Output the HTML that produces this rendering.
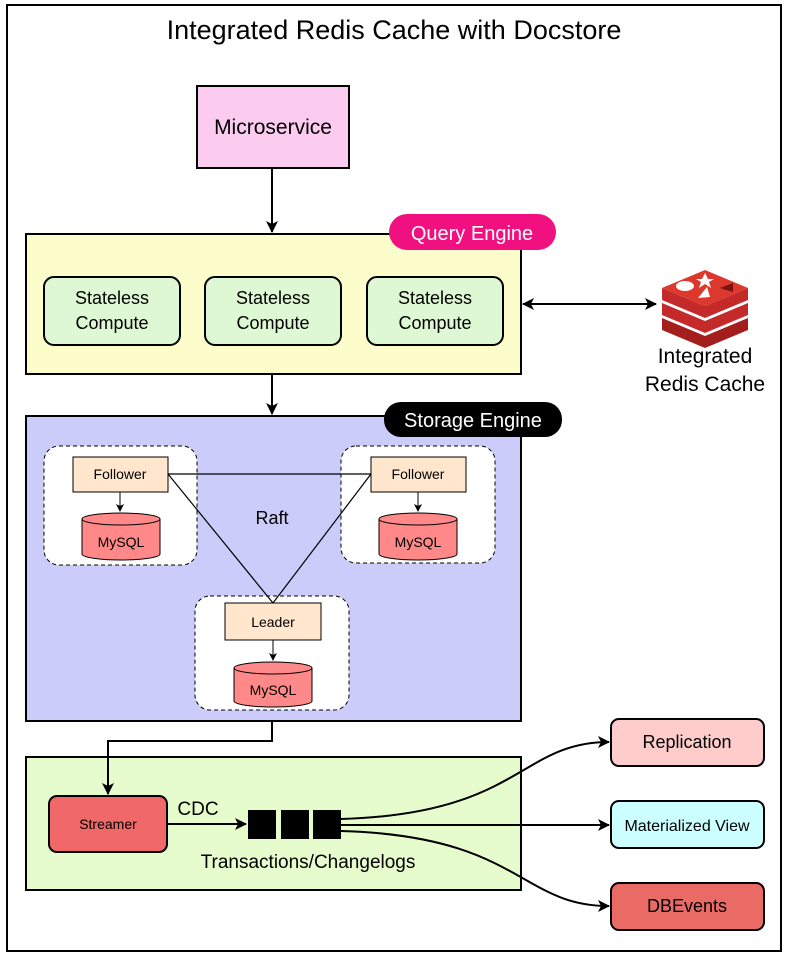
<!DOCTYPE html>
<html><head><style>body{margin:0;background:#fff}svg{display:block}text{font-family:"Liberation Sans",Arial,sans-serif}</style></head><body>
<svg width="789" height="956" viewBox="0 0 789 956" xmlns="http://www.w3.org/2000/svg">
<defs><marker id="a" markerWidth="12" markerHeight="12" refX="11" refY="6" orient="auto-start-reverse" markerUnits="userSpaceOnUse"><path d="M0,0 L12,6 L0,12 L3,6 Z" fill="#000"/></marker>
<marker id="s" markerWidth="8" markerHeight="8" refX="7" refY="4" orient="auto" markerUnits="userSpaceOnUse"><path d="M0,0 L8,4 L0,8 L2,4 Z" fill="#000"/></marker></defs>
<rect x="7" y="5" width="774" height="946" fill="#fff" stroke="#000" stroke-width="2"/>
<text x="394" y="39" font-size="27" text-anchor="middle">Integrated Redis Cache with Docstore</text>
<rect x="197" y="86" width="152" height="82" fill="#fcccf0" stroke="#000" stroke-width="2"/>
<text x="273" y="134" font-size="21" text-anchor="middle">Microservice</text>
<line x1="272" y1="168" x2="272" y2="232" stroke="#000" stroke-width="2" marker-end="url(#a)"/>
<rect x="26" y="234" width="495" height="140" fill="#fdfdcc" stroke="#000" stroke-width="2"/>
<rect x="389" y="214" width="167" height="36" rx="18" fill="#f1107f"/>
<text x="472" y="240" font-size="20" fill="#fff" text-anchor="middle">Query Engine</text>
<g fill="#ddf8d2" stroke="#000" stroke-width="2">
<rect x="44" y="277" width="136" height="68" rx="10"/><rect x="205" y="277" width="136" height="68" rx="10"/><rect x="367" y="277" width="136" height="68" rx="10"/></g>
<g font-size="18" text-anchor="middle"><text x="112" y="304">Stateless</text><text x="112" y="329">Compute</text>
<text x="273" y="304">Stateless</text><text x="273" y="329">Compute</text>
<text x="435" y="304">Stateless</text><text x="435" y="329">Compute</text></g>
<line x1="523" y1="304" x2="656" y2="304" stroke="#000" stroke-width="2" marker-start="url(#a)" marker-end="url(#a)"/>
<g>
<path d="M662,318 L705,336 L748,318 L748,330 L705,348 L662,330 Z" fill="#a41e1e"/>
<path d="M662,303 L705,321 L748,303 L748,315 L705,333 L662,315 Z" fill="#c42a2a"/>
<path d="M662,288 L705,306 L748,288 L748,300 L705,318 L662,300 Z" fill="#c42a2a"/>
<path d="M662,288 L705,270 L748,288 L705,306 Z" fill="#dc382d"/>
<ellipse cx="685" cy="286" rx="9" ry="5" fill="#fff"/>
<path d="M705,273 L708,279 L714,279 L709,282 L711,288 L705,284 L699,288 L701,282 L696,279 L702,279 Z" fill="#fff"/>
<path d="M720,288 L733,283 L733,292 Z" fill="#7a1212"/>
<path d="M698,298 L707,287 L710,297 Z" fill="#fff"/>
</g>
<text x="705" y="363" font-size="21" text-anchor="middle">Integrated</text>
<text x="705" y="391" font-size="21" text-anchor="middle">Redis Cache</text>
<line x1="272" y1="374" x2="272" y2="414" stroke="#000" stroke-width="2" marker-end="url(#a)"/>
<rect x="26" y="416" width="495" height="305" fill="#ccccfa" stroke="#000" stroke-width="2"/>
<rect x="384" y="402" width="178" height="35" rx="17" fill="#000"/>
<text x="473" y="427" font-size="20" fill="#fff" text-anchor="middle">Storage Engine</text>
<g fill="#fff" stroke="#000" stroke-dasharray="4,3" stroke-width="1">
<rect x="44" y="446" width="153" height="119" rx="15"/><rect x="341" y="446" width="154" height="117" rx="15"/><rect x="195" y="596" width="154" height="114" rx="15"/></g>
<g stroke="#000" stroke-width="1.2" fill="none"><line x1="168" y1="474" x2="371" y2="474"/><line x1="168" y1="474" x2="273" y2="603"/><line x1="371" y1="474" x2="273" y2="603"/></g>
<text x="272" y="524" font-size="18" text-anchor="middle">Raft</text>
<g fill="#ffe6cc" stroke="#000"><rect x="73" y="457" width="95" height="35"/><rect x="371" y="457" width="95" height="35"/><rect x="225" y="603" width="96" height="37"/></g>
<g font-size="14" text-anchor="middle"><text x="120" y="479">Follower</text><text x="418" y="479">Follower</text><text x="273" y="627">Leader</text></g>
<g stroke="#000" stroke-width="1"><line x1="120" y1="492" x2="120" y2="511" marker-end="url(#s)"/><line x1="418" y1="492" x2="418" y2="511" marker-end="url(#s)"/><line x1="273" y1="640" x2="273" y2="660" marker-end="url(#s)"/></g>
<g fill="#f88" stroke="#000">
<path d="M82,519 v35 a39,6 0 0 0 78,0 v-35"/><ellipse cx="121" cy="519" rx="39" ry="6"/>
<path d="M379,519 v35 a39,6 0 0 0 78,0 v-35"/><ellipse cx="418" cy="519" rx="39" ry="6"/>
<path d="M234,668 v33 a39,6 0 0 0 78,0 v-33"/><ellipse cx="273" cy="668" rx="39" ry="6"/></g>
<g font-size="14" text-anchor="middle"><text x="121" y="547">MySQL</text><text x="418" y="547">MySQL</text><text x="273" y="695">MySQL</text></g>
<rect x="26" y="757" width="495" height="133" fill="#e6fccc" stroke="#000" stroke-width="2"/>
<path d="M272,721 V741 H108 V794" fill="none" stroke="#000" stroke-width="2" marker-end="url(#a)"/>
<rect x="49" y="796" width="118" height="56" rx="8" fill="#f06868" stroke="#000" stroke-width="2"/>
<text x="108" y="829" font-size="14" text-anchor="middle">Streamer</text>
<text x="198" y="815" font-size="19" text-anchor="middle">CDC</text>
<line x1="167" y1="824" x2="246" y2="824" stroke="#000" stroke-width="2" marker-end="url(#a)"/>
<g fill="#000"><rect x="248" y="810" width="28" height="29"/><rect x="281" y="810" width="28" height="29"/><rect x="313" y="810" width="28" height="29"/></g>
<text x="308" y="868" font-size="19" text-anchor="middle">Transactions/Changelogs</text>
<g fill="none" stroke="#000" stroke-width="2">
<path d="M341,819 C520,814 520,742 609,742" marker-end="url(#a)"/>
<path d="M341,825 H609" marker-end="url(#a)"/>
<path d="M341,831 C520,836 520,906 609,906" marker-end="url(#a)"/></g>
<rect x="611" y="719" width="153" height="47" rx="8" fill="#ffcccc" stroke="#000" stroke-width="2"/>
<text x="687" y="748" font-size="18" text-anchor="middle">Replication</text>
<rect x="611" y="801" width="153" height="47" rx="8" fill="#ccffff" stroke="#000" stroke-width="2"/>
<text x="687" y="831" font-size="16" text-anchor="middle">Materialized View</text>
<rect x="611" y="883" width="153" height="47" rx="8" fill="#ea6b66" stroke="#000" stroke-width="2"/>
<text x="687" y="912" font-size="18" text-anchor="middle">DBEvents</text>
</svg>
</body></html>
